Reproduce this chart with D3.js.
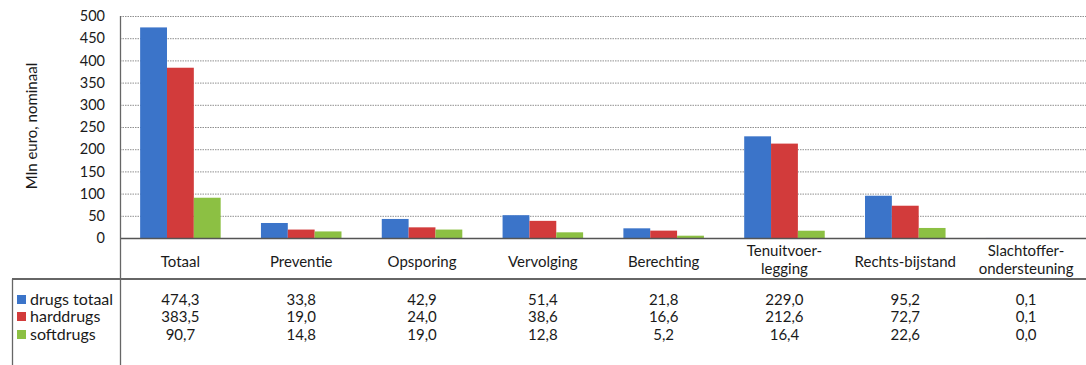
<!DOCTYPE html>
<html><head><meta charset="utf-8">
<script src="https://cdn.jsdelivr.net/npm/d3@7"></script>
<style>body{margin:0;background:#fff;} svg{display:block;font-family:Lato,"Open Sans",sans-serif;}</style>
</head><body>
<script>
const categories = ["Totaal","Preventie","Opsporing","Vervolging","Berechting","Tenuitvoer-\nlegging","Rechts-bijstand","Slachtoffer-\nondersteuning"];
const seriesNames = ["drugs totaal","harddrugs","softdrugs"];
const drugsTotaal = [474.3,33.8,42.9,51.4,21.8,229.0,95.2,0.1];
const harddrugs = [383.5,19.0,24.0,38.6,16.6,212.6,72.7,0.1];
const softdrugs = [90.7,14.8,19.0,12.8,5.2,16.4,22.6,0.0];
const yTicks = [0,50,100,150,200,250,300,350,400,450,500];
const colors = ["#3B74C9","#D23B3B","#8CC043"];
const series = [drugsTotaal, harddrugs, softdrugs];

(function(){
const W=1086,H=365;
const pLeft=120,pRight=1086,pTop=16,pBottom=238;
const FS=15;
const svg=d3.select("body").append("svg").attr("width",W).attr("height",H);
const x=d3.scaleBand().domain(d3.range(categories.length)).range([pLeft,pRight+0.5]).paddingInner(0).paddingOuter(0);
const y=d3.scaleLinear().domain([0,500]).range([pBottom,pTop]);
const bw=x.bandwidth()/4.5;

svg.append("g").selectAll("line").data(yTicks.filter(d=>d>0)).join("line")
  .attr("x1",pLeft).attr("x2",W).attr("y1",d=>y(d)+0.5).attr("y2",d=>y(d)+0.5)
  .attr("stroke","#8f8f8f").attr("stroke-width",1).attr("stroke-dasharray","1.5,1");

const yAxis=d3.axisLeft(y).tickValues(yTicks).tickSize(0).tickPadding(15);
const ga=svg.append("g").attr("transform",`translate(${pLeft},0)`).call(yAxis);
ga.select(".domain").remove();
ga.selectAll("text").attr("font-size",14.5).attr("fill","#1a1a1a").attr("font-family","Lato,'Open Sans',sans-serif");

series.forEach((s,si)=>{
  svg.append("g").selectAll("rect").data(s).join("rect")
    .attr("x",(d,i)=>x(i)+bw*0.75+si*bw).attr("width",bw)
    .attr("y",d=>y(d)).attr("height",d=>pBottom-y(d)).attr("fill",colors[si]);
});

svg.append("line").attr("x1",pLeft).attr("x2",W).attr("y1",pBottom+0.5).attr("y2",pBottom+0.5).attr("stroke","#555").attr("stroke-width",1.3);
svg.append("line").attr("x1",pLeft+0.5).attr("x2",pLeft+0.5).attr("y1",pTop).attr("y2",H).attr("stroke","#666").attr("stroke-width",1.3);
svg.append("line").attr("x1",12).attr("x2",W).attr("y1",279).attr("y2",279).attr("stroke","#666").attr("stroke-width",1.8);
svg.append("line").attr("x1",12.5).attr("x2",12.5).attr("y1",279).attr("y2",H).attr("stroke","#666").attr("stroke-width",1.3);

svg.append("text").attr("transform","translate(37,126) rotate(-90)").attr("text-anchor","middle")
  .attr("font-size",FS).attr("fill","#1a1a1a").text("Mln euro, nominaal");

const cl=svg.append("g");
categories.forEach((c,i)=>{
  const lines=c.split("\n");
  const cx=x(i)+x.bandwidth()/2;
  const t=cl.append("text").attr("text-anchor","middle").attr("font-size",FS).attr("fill","#1a1a1a");
  if(lines.length===1){ t.append("tspan").attr("x",cx).attr("y",267).text(lines[0]); }
  else { lines.forEach((l,j)=>t.append("tspan").attr("x",cx).attr("y",256+j*18).text(l)); }
});

const fmt=v=>d3.format(".1f")(v).replace(".",",");
const rowY=[305,322,340];
series.forEach((s,si)=>{
  svg.append("rect").attr("x",17).attr("y",rowY[si]-10).attr("width",9).attr("height",9).attr("fill",colors[si]);
  svg.append("text").attr("x",30).attr("y",rowY[si]).attr("font-size",16).attr("fill","#1a1a1a").text(seriesNames[si]);
  svg.append("g").selectAll("text").data(s).join("text")
    .attr("x",(d,i)=>x(i)+x.bandwidth()/2).attr("y",rowY[si]).attr("text-anchor","middle")
    .attr("font-size",FS).attr("fill","#1a1a1a").text(fmt);
});
})();
</script>
</body></html>
